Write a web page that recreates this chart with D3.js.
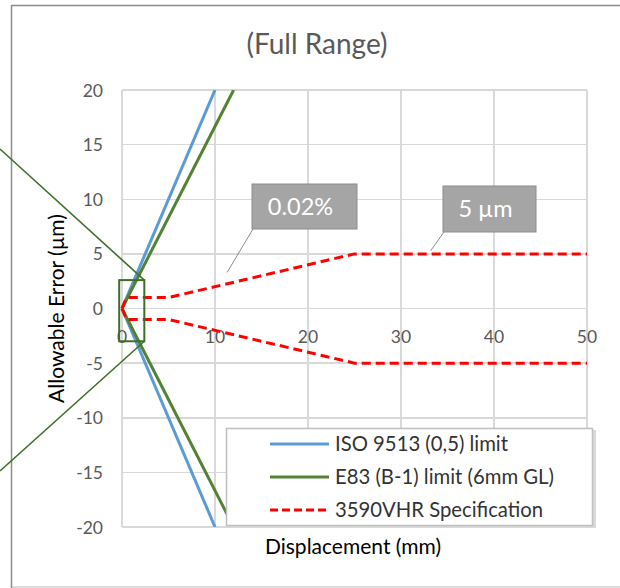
<!DOCTYPE html>
<meta charset="utf-8">
<style>
body{
  margin:0;
  background:#fff;
}
svg text{
  font-family:Lato, "Noto Sans", sans-serif;
}
.grid line{
  stroke:#d9d9d9;
  stroke-width:1.5px;
  shape-rendering:crispEdges;
}
.tick-label{
  fill:#595959;
  font-size:17.5px;
}
.axis-title{
  fill:#000;
  font-size:21px;
}
.legend text{
  fill:#333;
  font-size:20.3px;
}
</style>
<body>
<script src="https://cdn.jsdelivr.net/npm/d3@7"></script>
<script>
// data
var xTicks = [0, 10, 20, 30, 40, 50];
var yTicks = [20, 15, 10, 5, 0, -5, -10, -15, -20];

var isoX = [0, 10];
var isoY = [0, 20];
var e83X = [0, 12];
var e83Y = [0, 20];
var specX = [0, 0.5, 5, 25, 50];
var specY = [0, 1, 1, 5, 5];

var seriesNames = ["ISO 9513 (0,5) limit", "E83 (B-1) limit (6mm GL)", "3590VHR Specification"];
var seriesColors = ["#5b9bd5", "#548235", "#ff0000"];

// data labels: text and the point they point at
var labelText = ["0.02%", "5 \u00b5m"];
var labelX = [11.3, 33.2];
var labelY = [3.3, 5.3];

var W = 620, H = 588;
var plot = {l:122, r:587, t:90, b:527};

var x = d3.scaleLinear().domain([0, 50]).range([plot.l, plot.r]);
var y = d3.scaleLinear().domain([-20, 20]).range([plot.b, plot.t]);

var svg = d3.select("body").append("svg").attr("width", W).attr("height", H);

// outer frame pieces
svg.append("line").attr("x1", 12).attr("y1", 5.5).attr("x2", W).attr("y2", 5.5)
  .attr("stroke", "#8c8c8c").attr("stroke-width", 1.5);
svg.append("line").attr("x1", 11.5).attr("y1", 5).attr("x2", 11.5).attr("y2", H)
  .attr("stroke", "#8c8c8c").attr("stroke-width", 1.5);
svg.append("line").attr("x1", 12).attr("y1", 587).attr("x2", W).attr("y2", 587)
  .attr("stroke", "#d0d0d0").attr("stroke-width", 1.5);

// title
svg.append("text").attr("x", 317).attr("y", 54).attr("text-anchor", "middle")
  .attr("fill", "#595959").style("font-size", "28px").text("(Full Range)");

// gridlines
var grid = svg.append("g").attr("class", "grid");
grid.selectAll(".v").data(xTicks).enter().append("line")
  .attr("x1", function(d){ return x(d); }).attr("x2", function(d){ return x(d); })
  .attr("y1", plot.t).attr("y2", plot.b);
grid.selectAll(".h").data(yTicks).enter().append("line")
  .attr("x1", plot.l).attr("x2", plot.r)
  .attr("y1", function(d){ return y(d); }).attr("y2", function(d){ return y(d); });

// tick labels
svg.append("g").selectAll("text").data(yTicks).enter().append("text")
  .attr("class", "tick-label").attr("text-anchor", "end")
  .attr("x", 103).attr("y", function(d){ return y(d) + 6.5; })
  .text(function(d){ return d; });
svg.append("g").selectAll("text").data(xTicks).enter().append("text")
  .attr("class", "tick-label").attr("text-anchor", "middle")
  .attr("x", function(d){ return x(d); }).attr("y", y(0) + 34)
  .text(function(d){ return d; });

// axis titles
svg.append("text").attr("class", "axis-title").attr("text-anchor", "middle")
  .attr("transform", "translate(64," + y(0) + ") rotate(-90)").text("Allowable Error (\u00b5m)");
svg.append("text").attr("class", "axis-title").attr("text-anchor", "middle")
  .attr("x", 353).attr("y", 554).text("Displacement (mm)");

// series
svg.append("clipPath").attr("id", "plotclip").append("rect")
  .attr("x", plot.l - 3).attr("y", plot.t).attr("width", plot.r - plot.l + 6).attr("height", plot.b - plot.t);

var lines = svg.append("g").attr("clip-path", "url(#plotclip)");
var line = d3.line().x(function(d){ return x(d[0]); }).y(function(d){ return y(d[1]); });

function drawPair(xs, ys, color, dash){
  [1, -1].forEach(function(s){
    var pts = xs.map(function(v, i){ return [v, s * ys[i]]; });
    lines.append("path").datum(pts).attr("d", line)
      .attr("fill", "none").attr("stroke", color).attr("stroke-width", 3)
      .attr("stroke-dasharray", dash || null);
  });
}
drawPair(isoX, isoY, seriesColors[0]);
drawPair(e83X, e83Y, seriesColors[1]);
drawPair(specX, specY, seriesColors[2], "9,5");

// zoom box near the origin with lines running off to the left
var zoomBox = {x0:-0.3, x1:2.4, y0:-3, y1:2.6};
var dkGreen = "#3f6e2b";
svg.append("rect").attr("x", x(zoomBox.x0)).attr("y", y(zoomBox.y1))
  .attr("width", x(zoomBox.x1) - x(zoomBox.x0)).attr("height", y(zoomBox.y0) - y(zoomBox.y1))
  .attr("fill", "none").attr("stroke", dkGreen).attr("stroke-width", 2);
svg.append("line").attr("x1", x(zoomBox.x1)).attr("y1", y(zoomBox.y1)).attr("x2", 0).attr("y2", 149)
  .attr("stroke", dkGreen).attr("stroke-width", 1.6);
svg.append("line").attr("x1", x(zoomBox.x1)).attr("y1", y(zoomBox.y0)).attr("x2", 0).attr("y2", 471)
  .attr("stroke", dkGreen).attr("stroke-width", 1.6);

// data label callouts
var boxes = [{x:252, y:184, w:105, h:45}, {x:443, y:186, w:93, h:46}];
boxes.forEach(function(b, i){
  svg.append("line").attr("x1", b.x + 1).attr("y1", b.y + b.h)
    .attr("x2", x(labelX[i])).attr("y2", y(labelY[i]))
    .attr("stroke", "#8c8c8c").attr("stroke-width", 1);
  svg.append("rect").attr("x", b.x).attr("y", b.y).attr("width", b.w).attr("height", b.h)
    .attr("fill", "#a5a5a5").attr("stroke", "#8c8c8c").attr("stroke-width", 1);
  svg.append("text").attr("x", b.x + b.w / 2 - 4).attr("y", b.y + b.h / 2 + 8)
    .attr("text-anchor", "middle").attr("fill", "#fff").style("font-size", "23.5px")
    .text(labelText[i]);
});

// legend
var lg = svg.append("g").attr("class", "legend");
lg.append("rect").attr("x", 229).attr("y", 430).attr("width", 367).attr("height", 98).attr("fill", "#d9d9d9");
lg.append("rect").attr("x", 226.5).attr("y", 428.5).attr("width", 366).attr("height", 97)
  .attr("fill", "#fff").attr("stroke", "#bfbfbf").attr("stroke-width", 1.5);
seriesNames.forEach(function(n, i){
  var yy = 444 + i * 33;
  lg.append("line").attr("x1", 270).attr("x2", 329).attr("y1", yy).attr("y2", yy)
    .attr("stroke", seriesColors[i]).attr("stroke-width", 3)
    .attr("stroke-dasharray", i == 2 ? "8,4" : null);
  lg.append("text").attr("x", 335).attr("y", yy + 7).text(n);
});
</script>
</body>
